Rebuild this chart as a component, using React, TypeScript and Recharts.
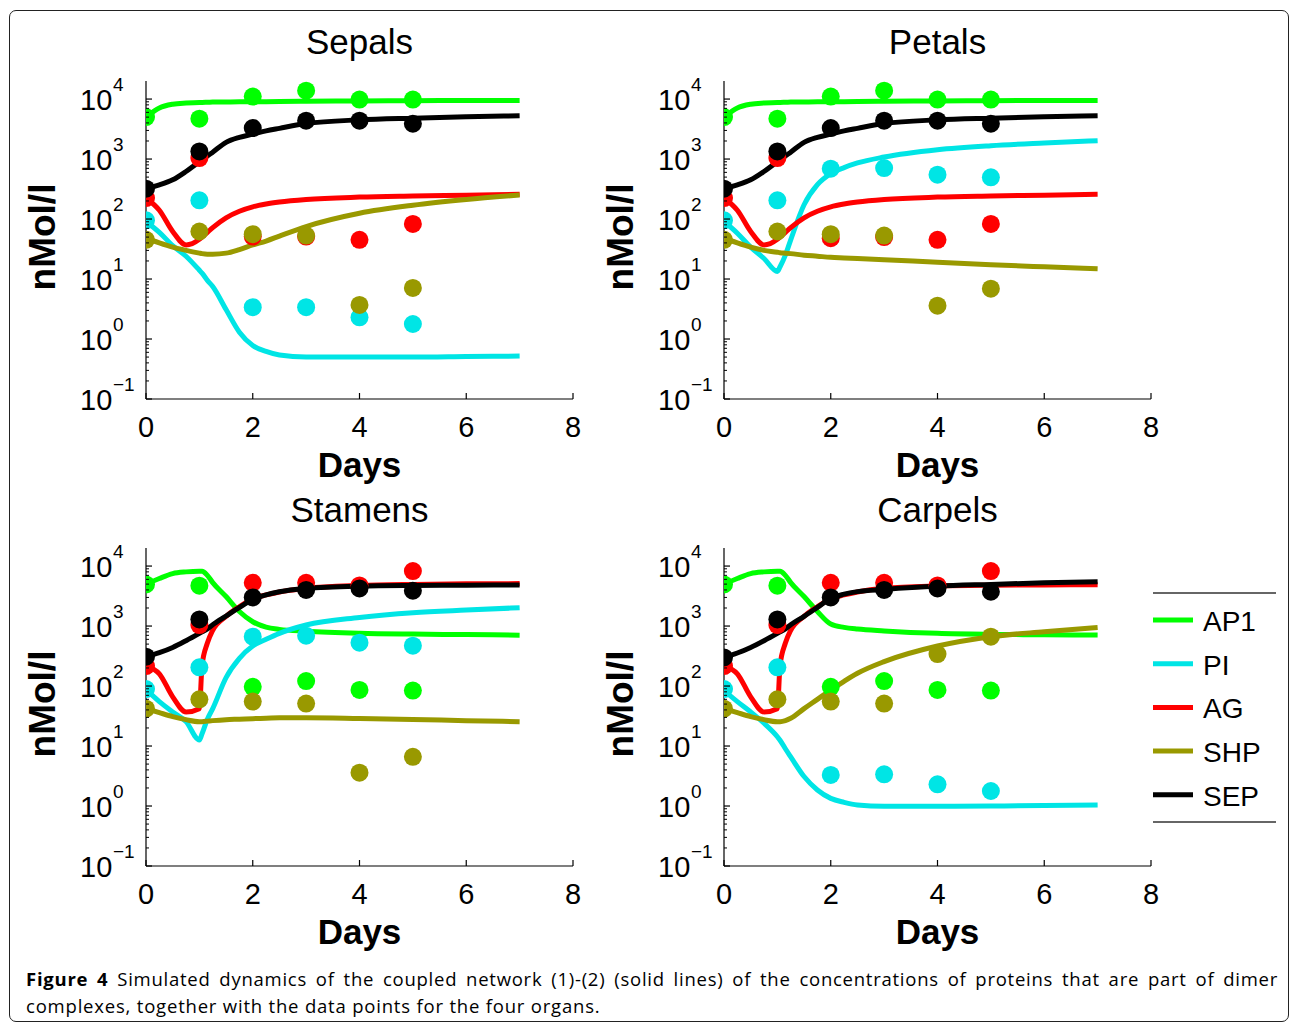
import React from 'react';
import { ComposedChart, Line, Scatter, XAxis, YAxis, Legend } from 'recharts';

const FONT = '"Liberation Sans", Arial, Helvetica, sans-serif';

// ---------------- data ----------------
const seriesNames = ['AP1', 'PI', 'AG', 'SHP', 'SEP'];
const seriesColors = ['#00ff00', '#00e5e5', '#ff0000', '#999900', '#000000'];
const panelTitles = ['Sepals', 'Petals', 'Stamens', 'Carpels'];
const xTicks = [0, 2, 4, 6, 8];
const yMajorTicks = [0.1, 1, 10, 100, 1000, 10000];
const yMinorMultipliers = [2, 3, 4, 5, 6, 7, 8, 9];
const yDomain = [0.1, 20000];
const xDomain = [0, 8];

// measurement days (data points)
const dataDays = [0, 1, 2, 3, 4, 5];
// simulation sample days (solid lines)
const lineDays = [0, 0.25, 0.5, 0.75, 1, 1.05, 1.15, 1.25, 1.5, 1.75, 2, 2.25, 2.5, 3, 4, 5, 6, 7];

// rows: AP1, PI, AG, SHP, SEP
const sepalsLines = [
  [5000, 7100, 8200, 8600, 8800, 8800, 8850, 8900, 8950, 9000, 9000, 9050, 9100, 9200, 9300, 9400, 9450, 9500],
  [91, 60, 36, 24, 14, 12.5, 9.5, 7.5, 3.1, 1.3, 0.78, 0.62, 0.54, 0.5, 0.5, 0.5, 0.51, 0.52],
  [224, 140, 62, 37, 46, 50, 60, 72, 105, 135, 160, 178, 192, 212, 232, 242, 250, 258],
  [48, 40, 34, 30, 27, 26.5, 26, 26, 27, 31, 37, 43, 52, 75, 125, 170, 212, 252],
  [320, 370, 450, 620, 900, 960, 1120, 1300, 1900, 2300, 2600, 2950, 3250, 3900, 4500, 4800, 5050, 5250],
];
const sepalsPoints = [
  [5000, 4700, 11000, 13800, 9800, 9800],
  [95, 205, 3.4, 3.4, 2.3, 1.78],
  [224, 1040, 51, 51, 45, 83],
  [45, 62, 56, 53, 3.7, 7.1],
  [320, 1340, 3290, 4360, 4360, 3880],
];

const petalsLines = [
  [5000, 7100, 8200, 8600, 8800, 8800, 8850, 8900, 8950, 9000, 9000, 9050, 9100, 9200, 9300, 9400, 9450, 9500],
  [91, 58, 34, 22, 13.4, 16, 25, 45, 173, 373, 570, 720, 860, 1080, 1430, 1670, 1850, 2020],
  [224, 140, 62, 37, 46, 50, 60, 72, 105, 135, 160, 178, 192, 212, 232, 242, 250, 258],
  [48, 40, 34, 30, 28, 27.5, 27, 26.5, 25, 24, 23, 22.5, 22, 21, 19, 17.3, 16, 14.9],
  [320, 370, 450, 620, 900, 960, 1120, 1300, 1900, 2300, 2600, 2950, 3250, 3900, 4500, 4800, 5050, 5250],
];
const petalsPoints = [
  [5000, 4700, 11000, 13800, 9800, 9800],
  [95, 205, 690, 708, 548, 495],
  [224, 1040, 48, 50, 45, 83],
  [45, 62, 56, 53, 3.6, 6.9],
  [320, 1340, 3290, 4360, 4360, 3880],
];

const stamensLines = [
  [4950, 6200, 7500, 8000, 8200, 8200, 7000, 5300, 3100, 1750, 1180, 960, 880, 820, 760, 735, 720, 705],
  [87, 55, 37, 25.5, 12.6, 16, 28, 42, 138, 289, 464, 600, 755, 1040, 1390, 1670, 1850, 2020],
  [215, 160, 66, 37, 42, 220, 520, 850, 1450, 2100, 2850, 3300, 3700, 4250, 4750, 4950, 5050, 5100],
  [42, 36, 31, 27.5, 25.5, 25.5, 26, 26.5, 27.5, 28, 28.6, 29, 29.5, 29.6, 28.8, 27.8, 26.5, 25.5],
  [308, 360, 440, 570, 755, 800, 900, 1050, 1470, 2050, 2780, 3300, 3730, 4240, 4640, 4760, 4800, 4830],
];
const stamensPoints = [
  [4950, 4700, 97, 121, 86, 84],
  [89, 205, 664, 690, 527, 470],
  [215, 1040, 5270, 5270, 4760, 8250],
  [42, 60, 55, 51, 3.6, 6.6],
  [308, 1290, 3000, 4000, 4240, 3880],
];

const carpelsLines = [
  [4950, 6200, 7500, 8000, 8200, 8200, 7000, 5300, 3100, 1750, 1080, 950, 890, 830, 755, 726, 715, 708],
  [84, 55, 37, 24, 14.3, 12.5, 9, 6.6, 3.1, 1.85, 1.34, 1.15, 1.04, 0.99, 0.99, 1.0, 1.02, 1.04],
  [215, 160, 66, 37, 42, 220, 520, 850, 1450, 2100, 2850, 3300, 3700, 4250, 4650, 4800, 4850, 4900],
  [42, 36, 31, 27.5, 25.5, 25.5, 26.5, 29, 42, 60, 86, 120, 163, 255, 464, 664, 805, 950],
  [300, 355, 440, 570, 755, 800, 900, 1050, 1450, 2050, 2900, 3400, 3750, 4080, 4640, 4950, 5250, 5480],
];
const carpelsPoints = [
  [4950, 4700, 97, 121, 86, 84],
  [89, 205, 3.3, 3.37, 2.3, 1.78],
  [215, 1040, 5270, 5270, 4760, 8250],
  [42, 60, 55, 51, 341, 664],
  [300, 1290, 3000, 4000, 4240, 3730],
];

const captionBold = 'Figure 4';
const captionLine1 = ' Simulated dynamics of the coupled network (1)-(2) (solid lines) of the concentrations of proteins that are part of dimer';
const captionLine2 = 'complexes, together with the data points for the four organs.';

// ---------------- layout ----------------
const PLOT_W = 427;
const PLOT_H = 318;
const YAXIS_W = 110;
const XAXIS_H = 90;
const M_TOP = 10;
const M_LEFT = 30;
const M_RIGHT = 20;
const panelOrigins = [
  [146, 81],
  [724, 81],
  [146, 548],
  [724, 548],
];

const yTicks = [
  ...yMajorTicks,
  ...yMajorTicks.slice(0, -1).flatMap((b) => yMinorMultipliers.map((m) => +(b * m).toPrecision(3))),
];

const toSeries = (days: number[], vals: number[]) => days.map((d, i) => ({ d, v: vals[i] }));

const YTick = (props: any) => {
  const { x, y, payload } = props;
  const v = payload.value;
  const lg = Math.log10(v);
  const e = Math.round(lg);
  const major = Math.abs(lg - e) < 1e-6;
  if (!major) {
    return <line x1={x} x2={x + 3} y1={y} y2={y} stroke="#000" strokeWidth={1} />;
  }
  const expText = e < 0 ? '\u2212' + Math.abs(e) : String(e);
  return (
    <g>
      <line x1={x} x2={x + 6} y1={y} y2={y} stroke="#000" strokeWidth={1.2} />
      <text x={x - 66} y={y + 10.5} fontSize={29} fontFamily={FONT} fill="#000">10</text>
      <text x={x - 33} y={y - 7.6} fontSize={19} fontFamily={FONT} fill="#000">{expText}</text>
    </g>
  );
};

const XTick = (props: any) => {
  const { x, y, payload } = props;
  return (
    <g>
      <line x1={x} x2={x} y1={y} y2={y - 6} stroke="#000" strokeWidth={1.2} />
      <text x={x} y={y + 38} textAnchor="middle" fontSize={29} fontFamily={FONT} fill="#000">
        {payload.value}
      </text>
    </g>
  );
};

const renderLegend = () => (
  <svg width={126} height={234} style={{ display: 'block', overflow: 'visible' }}>
    <line x1={0} x2={123} y1={1} y2={1} stroke="#333" strokeWidth={1.5} />
    {seriesNames.map((n, i) => {
      const cy = 28 + i * 43.7;
      return (
        <g key={n}>
          <line x1={0} x2={40} y1={cy} y2={cy} stroke={seriesColors[i]} strokeWidth={5} />
          <text x={50} y={cy + 11} fontSize={28} fontFamily={FONT} fill="#000">{n}</text>
        </g>
      );
    })}
    <line x1={0} x2={123} y1={230} y2={230} stroke="#333" strokeWidth={1.5} />
  </svg>
);

type PanelProps = {
  lines: number[][];
  points: number[][];
  origin: number[];
  legend?: boolean;
};

const Panel = ({ lines, points, origin, legend }: PanelProps) => {
  const extraRight = legend ? 123 : 0;
  const width = M_LEFT + YAXIS_W + PLOT_W + M_RIGHT + extraRight;
  const height = M_TOP + PLOT_H + XAXIS_H;
  const chartLeft = origin[0] - M_LEFT - YAXIS_W;
  return (
    <div style={{ position: 'absolute', left: chartLeft, top: origin[1] - M_TOP }}>
      <ComposedChart
        width={width}
        height={height}
        margin={{ top: M_TOP, right: M_RIGHT + extraRight, bottom: 0, left: M_LEFT }}
      >
        <XAxis
          dataKey="d"
          type="number"
          domain={xDomain}
          ticks={xTicks}
          interval={0}
          height={XAXIS_H}
          tickSize={0}
          tickMargin={0}
          tickLine={false}
          axisLine={{ stroke: '#000', strokeWidth: 1.2 }}
          tick={(p: any) => <XTick {...p} />}
          label={(p: any) => {
            const vb = p.viewBox;
            return (
              <text x={vb.x + vb.width / 2} y={vb.y + 78} textAnchor="middle" fontSize={35} fontWeight="bold" fontFamily={FONT} fill="#000">
                Days
              </text>
            );
          }}
          allowDataOverflow
        />
        <YAxis
          dataKey="v"
          type="number"
          scale="log"
          domain={yDomain}
          ticks={yTicks}
          interval={0}
          width={YAXIS_W}
          tickSize={0}
          tickMargin={0}
          tickLine={false}
          axisLine={{ stroke: '#000', strokeWidth: 1.2 }}
          tick={(p: any) => <YTick {...p} />}
          label={(p: any) => {
            const vb = p.viewBox;
            const cx = vb.x + vb.width - 91;
            const cy = vb.y + vb.height / 2 - 3;
            return (
              <text x={cx} y={cy} transform={`rotate(-90 ${cx} ${cy})`} textAnchor="middle" fontSize={37} fontWeight="bold" fontFamily={FONT} fill="#000">
                nMol/l
              </text>
            );
          }}
          allowDataOverflow
        />
        {lines.map((vals, i) => (
          <Line
            key={'l' + seriesNames[i]}
            data={toSeries(lineDays, vals)}
            dataKey="v"
            type="monotone"
            stroke={seriesColors[i]}
            strokeWidth={5}
            strokeLinejoin="round"
            dot={false}
            activeDot={false}
            isAnimationActive={false}
            legendType="none"
          />
        ))}
        {points.map((vals, i) => (
          <Scatter
            key={'s' + seriesNames[i]}
            data={toSeries(dataDays, vals)}
            dataKey="v"
            fill={seriesColors[i]}
            isAnimationActive={false}
            legendType="none"
            shape={(p: any) => <circle cx={p.cx} cy={p.cy} r={9} fill={seriesColors[i]} />}
          />
        ))}
        {legend ? (
          <Legend
            layout="vertical"
            align="center"
            verticalAlign="middle"
            content={renderLegend}
            wrapperStyle={{ left: 1153 - chartLeft, top: 592 - (origin[1] - M_TOP), width: 126, height: 234, position: 'absolute' }}
          />
        ) : null}
      </ComposedChart>
    </div>
  );
};

export default function App() {
  const panels = [
    { lines: sepalsLines, points: sepalsPoints },
    { lines: petalsLines, points: petalsPoints },
    { lines: stamensLines, points: stamensPoints },
    { lines: carpelsLines, points: carpelsPoints },
  ];
  const captionStyle: any = {
    position: 'absolute',
    left: 26,
    width: 1252,
    fontFamily: '"Open Sans", "Noto Sans", sans-serif',
    fontSize: 18.5,
    letterSpacing: '0.8px',
    lineHeight: '27px',
    color: '#000',
    whiteSpace: 'nowrap',
  };
  return (
    <div style={{ position: 'absolute', left: 0, top: 0, width: 1290, height: 1022, background: '#fff', overflow: 'hidden', fontFamily: FONT }}>
      <div
        style={{
          position: 'absolute',
          left: 9,
          top: 10,
          width: 1290 - 9 - 1,
          height: 1022 - 10,
          boxSizing: 'border-box',
          border: '1.6px solid #222',
          borderRadius: 7,
        }}
      />
      <svg width={1290} height={1022} style={{ position: 'absolute', left: 0, top: 0, pointerEvents: 'none' }}>
        {panelTitles.map((t, i) => (
          <text
            key={t}
            x={panelOrigins[i][0] + PLOT_W / 2}
            y={panelOrigins[i][1] - 27 + (i >= 2 ? 1 : 0)}
            textAnchor="middle"
            fontSize={35}
            fontFamily={FONT}
            fill="#000"
          >
            {t}
          </text>
        ))}
      </svg>
      {panels.map((p, i) => (
        <Panel key={panelTitles[i]} lines={p.lines} points={p.points} origin={panelOrigins[i]} legend={i === 3} />
      ))}
      <div style={{ ...captionStyle, top: 965, whiteSpace: 'normal', textAlign: 'justify', textAlignLast: 'justify', letterSpacing: '0.75px' }}>
        <b>{captionBold}</b>
        {captionLine1}
      </div>
      <div style={{ ...captionStyle, top: 992 }}>{captionLine2}</div>
    </div>
  );
}
